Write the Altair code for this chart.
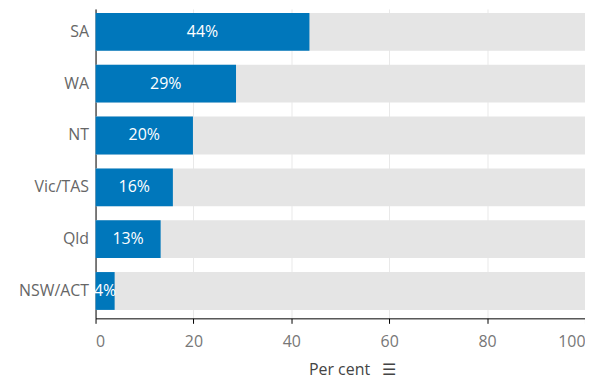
import altair as alt
import pandas as pd

states = ["SA", "WA", "NT", "Vic/TAS", "Qld", "NSW/ACT"]
values = [43.7, 28.7, 19.9, 15.8, 13.3, 3.9]
totals = [100, 100, 100, 100, 100, 100]
x_ticks = [0, 20, 40, 60, 80, 100]

df = pd.DataFrame({"state": states, "value": values, "total": totals})

FONT = "Open Sans"
BLUE = "#0077BB"
FS = 16

y_enc = alt.Y(
    "state:N",
    sort=states,
    title=None,
    scale=alt.Scale(paddingInner=0.27, paddingOuter=0.12, align=0.32),
    axis=alt.Axis(
        domain=True, domainColor="#000000", domainWidth=1,
        ticks=False, labelPadding=7, labelColor="#666666",
        labelFontSize=FS, labelFont=FONT, grid=False,
    ),
)

x_axis = alt.Axis(
    values=x_ticks,
    title="Per cent\u00a0\u00a0\u00a0☰",
    titleX=258,
    titleFont=FONT, titleFontSize=FS, titleColor="#444444", titleFontWeight="normal",
    titlePadding=12,
    labelFont=FONT, labelFontSize=FS, labelColor="#777777", labelPadding=10,
    labelFlush=True,
    domainColor="#000000", domainWidth=1,
    tickColor="#000000", tickSize=5,
    grid=True, gridColor="#e9e9e9",
)

base = alt.Chart(df)

bg = base.mark_bar(color="#e5e5e5").encode(
    x=alt.X("total:Q", scale=alt.Scale(domain=[0, 100], nice=False), axis=x_axis),
    y=y_enc,
)

fg = base.mark_bar(color=BLUE).encode(
    x=alt.X("value:Q"),
    y=alt.Y("state:N", sort=states),
)

labels = base.transform_calculate(
    mid="datum.value / 2",
    lab="format(round(datum.value), 'd') + '%'",
).mark_text(
    color="white", font=FONT, fontSize=FS, align="center", baseline="middle"
).encode(
    x=alt.X("mid:Q"),
    y=alt.Y("state:N", sort=states),
    text="lab:N",
)

chart = (bg + fg + labels).properties(
    width=492,
    height=311,
    autosize=alt.AutoSizeParams(type="none"),
    padding={"left": 88, "top": 0, "right": 0, "bottom": 60},
).configure_view(stroke=None)

chart.save("out.html", embed_options={"renderer": "svg", "actions": False})
